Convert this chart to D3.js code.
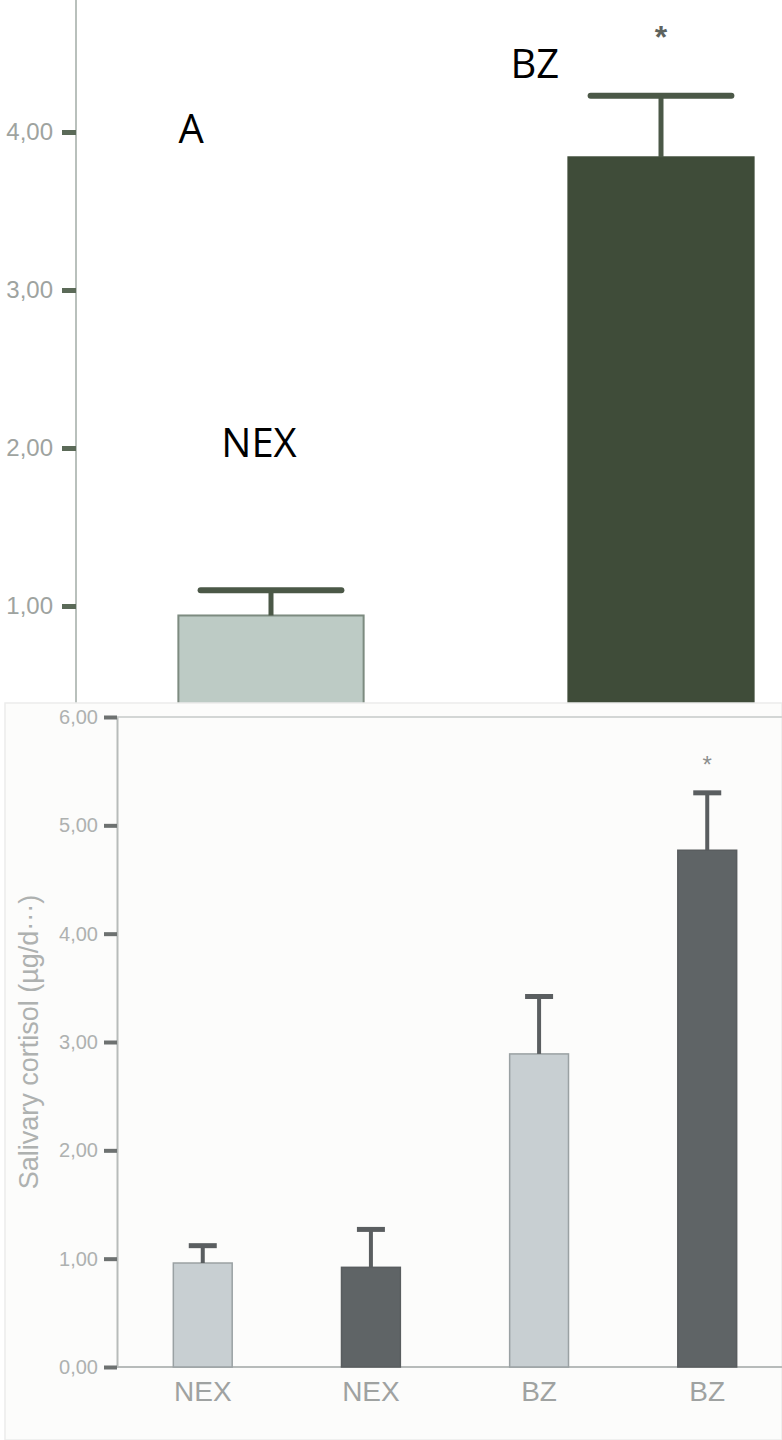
<!DOCTYPE html>
<html>
<head>
<meta charset="utf-8">
<script src="https://cdn.jsdelivr.net/npm/d3@7/dist/d3.min.js"></script>
<style>
  body { margin: 0; background: #fff; }
  svg { display: block; }
  .tick text { font-family: "Liberation Sans", Arial, sans-serif; }
  .note { font-family: "Open Sans", sans-serif; fill: #000; }
</style>
</head>
<body>
<script>
// panel A (top, enlarged crop)
const groupsA = ['NEX', 'BZ'];
const meanA = [0.94, 3.84];
const upperA = [1.10, 4.23];   // top of error bar
const starA = [false, true];
const ticksA = [1, 2, 3, 4];

// panel B (full chart)
const groupsB = ['NEX', 'NEX', 'BZ', 'BZ'];
const meanB = [0.96, 0.92, 2.89, 4.77];
const upperB = [1.12, 1.27, 3.42, 5.30];
const starB = [false, false, false, true];
const ticksB = [0, 1, 2, 3, 4, 5, 6];
const yTitleB = 'Salivary cortisol (µg/d···)';

let W = 782, H = 1440;
let comma = d => d3.format('.2f')(d).replace('.', ',');

let svg = d3.select('body').append('svg')
  .attr('width', W)
  .attr('height', H);

// ---------- panel A ----------
let gA = svg.append('g');

let xA = d3.scaleBand()
  .domain(groupsA)
  .range([76, 856])
  .paddingInner(0.525)
  .paddingOuter(0.2625);

let yA = d3.scaleLinear()
  .domain([0, 1])
  .range([764, 606]);

let axA = gA.append('g')
  .attr('transform', 'translate(76,0)')
  .call(d3.axisLeft(yA).tickValues(ticksA).tickFormat(comma)
    .tickSize(14).tickSizeOuter(0).tickPadding(9));
axA.select('.domain').attr('stroke', '#b9c0bc').attr('stroke-width', 2)
  .attr('d', 'M0,0V' + yA(0));
axA.selectAll('.tick line').attr('stroke', '#5b6a58').attr('stroke-width', 5);
axA.selectAll('.tick text').attr('fill', '#9ea3a0').style('font-size', '24px');

gA.selectAll('rect.bar')
  .data(groupsA)
  .enter().append('rect')
  .attr('class', 'bar')
  .attr('x', d => xA(d))
  .attr('width', xA.bandwidth())
  .attr('y', (d, i) => yA(meanA[i]))
  .attr('height', (d, i) => yA(0) - yA(meanA[i]))
  .attr('fill', (d, i) => i === 0 ? '#bdcbc5' : '#3f4c39')
  .attr('stroke', (d, i) => i === 0 ? '#7d8b80' : '#3f4c39')
  .attr('stroke-width', 2);

let capA = xA.bandwidth() * 0.38;
groupsA.forEach((d, i) => {
  let cx = xA(d) + xA.bandwidth() / 2;
  gA.append('line')
    .attr('x1', cx).attr('x2', cx)
    .attr('y1', yA(meanA[i])).attr('y2', yA(upperA[i]))
    .attr('stroke', '#4b5847').attr('stroke-width', 5);
  gA.append('line')
    .attr('x1', cx - capA).attr('x2', cx + capA)
    .attr('y1', yA(upperA[i])).attr('y2', yA(upperA[i]))
    .attr('stroke', '#4b5847').attr('stroke-width', 6)
    .attr('stroke-linecap', 'round');
  if (starA[i]) {
    gA.append('text')
      .attr('x', cx).attr('y', yA(upperA[i]) - 48)
      .attr('text-anchor', 'middle')
      .style('font', 'bold 32px "Liberation Sans", sans-serif')
      .attr('fill', '#5e635e')
      .text('*');
  }
});

// black annotation labels
gA.append('text').attr('class', 'note')
  .attr('x', xA('NEX')).attr('y', yA(4.0) + 11)
  .style('font-size', '40px').text('A');
gA.append('text').attr('class', 'note')
  .attr('x', xA('NEX') + xA.bandwidth() / 2 - 12).attr('y', yA(1.94))
  .attr('text-anchor', 'middle')
  .style('font-size', '40px').text('NEX');
gA.append('text').attr('class', 'note')
  .attr('x', xA('BZ') - 58).attr('y', yA(4.34))
  .style('font-size', '40px').text('BZ');

// ---------- panel B ----------
let gB = svg.append('g');

gB.append('rect')
  .attr('x', 5).attr('y', 703)
  .attr('width', W - 5).attr('height', H - 703)
  .attr('fill', '#fcfcfb')
  .attr('stroke', '#ebeceb')
  .attr('stroke-width', 1.5);

let xB = d3.scaleBand()
  .domain(d3.range(groupsB.length))
  .range([117, 793])
  .paddingInner(0.65)
  .paddingOuter(0.335);

let yB = d3.scaleLinear()
  .domain([0, 6])
  .range([1367, 717]);

// frame line at top
gB.append('line')
  .attr('x1', 117).attr('x2', W)
  .attr('y1', yB(6)).attr('y2', yB(6))
  .attr('stroke', '#d3d6d5').attr('stroke-width', 2);

let axB = gB.append('g')
  .attr('transform', 'translate(117,0)')
  .call(d3.axisLeft(yB).tickValues(ticksB).tickFormat(comma)
    .tickSize(13).tickSizeOuter(0).tickPadding(6));
axB.select('.domain').attr('stroke', '#b7bbba').attr('stroke-width', 2);
axB.selectAll('.tick line').attr('stroke', '#6d7170').attr('stroke-width', 4);
axB.selectAll('.tick text').attr('fill', '#aeb1b0').style('font-size', '20px');

let axBx = gB.append('g')
  .attr('transform', 'translate(0,' + yB(0) + ')')
  .call(d3.axisBottom(xB).tickFormat(i => groupsB[i])
    .tickSize(0).tickPadding(14));
axBx.select('.domain').attr('stroke', '#b7bbba').attr('stroke-width', 2)
  .attr('d', 'M117,0H' + W);
axBx.selectAll('.tick text').attr('fill', '#9fa2a1').style('font-size', '28px');

gB.append('text')
  .attr('transform', 'translate(38,' + yB(3.0) + ') rotate(-90)')
  .attr('text-anchor', 'middle')
  .style('font', '27px "Liberation Sans", Arial, sans-serif')
  .attr('fill', '#aeb1b0')
  .text(yTitleB);

gB.selectAll('rect.bar')
  .data(groupsB)
  .enter().append('rect')
  .attr('class', 'bar')
  .attr('x', (d, i) => xB(i))
  .attr('width', xB.bandwidth())
  .attr('y', (d, i) => yB(meanB[i]))
  .attr('height', (d, i) => yB(0) - yB(meanB[i]))
  .attr('fill', (d, i) => i % 2 === 0 ? '#c8cfd2' : '#5f6466')
  .attr('stroke', (d, i) => i % 2 === 0 ? '#9aa1a3' : '#595d5f')
  .attr('stroke-width', 1.5);

let capB = 14;
groupsB.forEach((d, i) => {
  let cx = xB(i) + xB.bandwidth() / 2;
  gB.append('line')
    .attr('x1', cx).attr('x2', cx)
    .attr('y1', yB(meanB[i])).attr('y2', yB(upperB[i]))
    .attr('stroke', '#5a5e60').attr('stroke-width', 4);
  gB.append('line')
    .attr('x1', cx - capB).attr('x2', cx + capB)
    .attr('y1', yB(upperB[i])).attr('y2', yB(upperB[i]))
    .attr('stroke', '#5a5e60').attr('stroke-width', 5);
  if (starB[i]) {
    gB.append('text')
      .attr('x', cx).attr('y', yB(upperB[i]) - 20)
      .attr('text-anchor', 'middle')
      .style('font', '24px "Liberation Sans", sans-serif')
      .attr('fill', '#8c8f8e')
      .text('*');
  }
});
</script>
</body>
</html>
